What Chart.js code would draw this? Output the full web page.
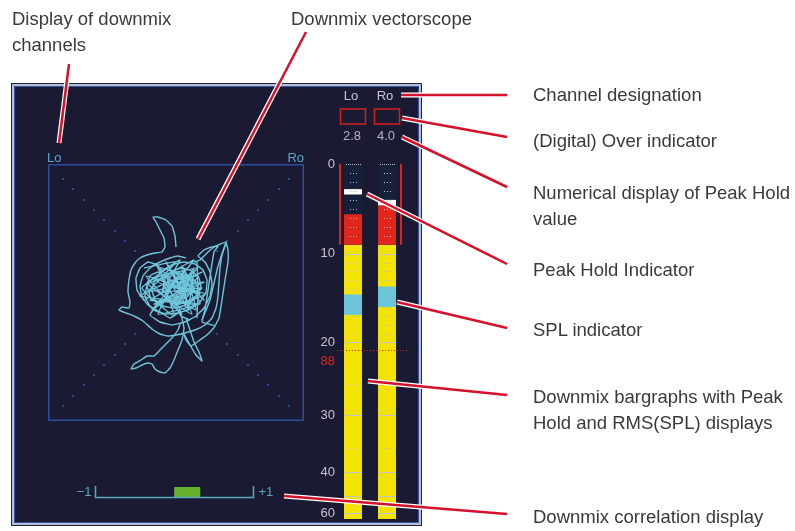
<!DOCTYPE html>
<html>
<head>
<meta charset="utf-8">
<script src="https://cdn.jsdelivr.net/npm/chart.js@4.4.1/dist/chart.umd.min.js"></script>
<style>
  html, body { margin: 0; padding: 0; background: #fff; }
  body { width: 795px; height: 531px; position: relative; overflow: hidden; font-family: "Liberation Sans", Arial, sans-serif; }
  #panel { position: absolute; left: 11px; top: 83px; width: 409px; height: 441px; border: 1px solid #25253a;
           background: #1b1a33; box-shadow: inset 0 0 0 2px #b3bbd6, inset 0 0 0 3px #3656a6; }
  canvas { position: absolute; }
  #scope { left: 48px; top: 164px; }
  #meter { left: 300px; top: 85px; }
  #corr { left: 70px; top: 480px; }
  #notes { position: absolute; left: 0; top: 0; }
  #notes text.note { font-family: "Liberation Sans", Arial, sans-serif; font-size: 18.5px; fill: #3a3a3a; }
  #notes text.ch { font-family: "Liberation Sans", Arial, sans-serif; font-size: 13px; fill: #5aa6c8; }
</style>
</head>
<body>
<div id="panel"></div>
<canvas id="scope" width="256" height="257"></canvas>
<canvas id="meter" width="120" height="445"></canvas>
<canvas id="corr" width="215" height="25"></canvas>
<svg id="notes" width="795" height="531">
  <g id="leaders"></g>
  <text class="ch" x="47" y="162">Lo</text>
  <text class="ch" x="304" y="162" text-anchor="end">Ro</text>
  <text class="note" x="12" y="25">Display of downmix</text>
  <text class="note" x="12" y="51">channels</text>
  <text class="note" x="291" y="25">Downmix vectorscope</text>
  <text class="note" x="533" y="101">Channel designation</text>
  <text class="note" x="533" y="147">(Digital) Over indicator</text>
  <text class="note" x="533" y="199">Numerical display of Peak Hold</text>
  <text class="note" x="533" y="225">value</text>
  <text class="note" x="533" y="276">Peak Hold Indicator</text>
  <text class="note" x="533" y="336">SPL indicator</text>
  <text class="note" x="533" y="403">Downmix bargraphs with Peak</text>
  <text class="note" x="533" y="429">Hold and RMS(SPL) displays</text>
  <text class="note" x="533" y="523">Downmix correlation display</text>
</svg>
<script>
// ---- data ----
const CHANNELS = ['Lo', 'Ro'];
const PEAK_HOLD = [2.8, 4.0];          // dB below full scale
const PEAK_TEXT = ['2.8', '4.0'];
const LEVEL = [5.6, 4.6];              // current bargraph top
const RED_ZONE = 9;                    // red zone 0..-9 dB
const FLOOR = 63.5;
const SPL_TOP = [14.6, 13.7];
const SPL_BOTTOM = [16.9, 16.0];
const DB_TICKS = [0, 10, 20, 30, 40, 60];
const DB_MAJOR = [0, 10, 20, 30, 40, 50, 60];
const DB_MINOR = [1, 2, 3, 4, 5, 6, 7, 8, 9, 11, 12, 13, 14, 15, 16, 17, 18, 19, 25, 35];
const SPL_REF = 20.9;
const SPL_REF_TEXT = '88';
const CORRELATION = [0, 0.32];

// vectorscope trace (x right, y down inside the 256 box)
const SCOPE_OUTLINE = [[128,83],[127,72],[124,62],[118,56],[110,53],[105,53],[108,58],[112,66],[116,74],[117,83],[114,88],[107,89],[99,91],[92,94],[87,99],[83,106],[81,116],[80,128],[82,138],[81,144],[74,143],[71,146],[78,149],[86,152],[95,157],[104,165],[112,170],[120,172],[128,171],[137,169],[147,166],[157,161],[164,154],[168,144],[170,132],[171,118],[172,104],[174,91],[178,78],[168,82],[160,88],[152,96],[146,98]];
const SCOPE_CORE = [[138,94],[130,92],[122,94],[112,98],[102,104],[95,112],[92,122],[94,133],[100,141],[108,147],[118,150],[130,149],[142,145],[152,138],[158,128],[159,116],[155,106],[147,100],[136,98],[124,101],[114,107],[107,116],[104,126],[107,136],[115,142],[126,144],[138,141],[148,134],[153,124],[151,114],[144,107],[134,104],[124,107],[117,115],[115,125],[120,133],[129,136],[139,133],[145,125],[143,116],[136,112],[128,114],[124,121],[128,127],[136,126],[140,119]];
const SCOPE_LOOP = [[110,101],[100,98],[92,104],[88,114],[89,126],[96,136],[102,132],[99,122],[102,112],[110,108],[119,114],[122,126],[116,136],[109,141],[102,151],[112,158],[124,161],[137,158],[148,152],[156,144],[162,132],[164,120],[162,108],[157,98],[150,92],[156,86],[164,83],[170,82],[166,88],[163,106],[160,126],[157,146],[154,158],[167,162],[160,170],[152,176],[143,182],[138,176],[136,170]];
const SCOPE_TAIL_R = [[138,154],[142,166],[146,178],[151,188],[154,197],[148,191],[142,181],[136,170]];
const SCOPE_TAIL_L = [[132,160],[130,166],[124,174],[118,180],[112,186],[106,192],[99,192],[93,196],[86,200],[83,205],[88,204],[94,201],[100,199],[104,200],[107,205],[112,208],[117,209],[122,204],[126,196],[130,186],[134,176],[136,164],[132,148],[122,154],[112,148],[102,142],[97,132],[100,118],[112,112],[127,108],[142,112],[150,121],[148,132],[138,138],[126,140],[118,132],[120,120],[132,118],[138,124],[134,132],[128,142],[133,152],[142,156]];
const SCOPE_SPIKE_A = [[178,78],[180,86],[180,98],[177,116],[174,136],[171,154],[167,162]];
const SCOPE_SPIKE_B = [[178,78],[170,102],[162,136],[154,156]];
const SCOPE_SPIKE_C = [[149,98],[150,126],[149,154]];
const SCOPE_MESH = [[120,110],[150,104],[126,124],[156,118],[118,136],[152,140],[134,102],[140,146],[146,104],[124,142],[158,130],[116,120],[144,110],[130,134],[154,124],[122,128],[148,146],[136,106],[128,140],[150,112],[120,118],[142,130],[132,112],[156,136],[126,108],[138,144]];
const SCOPE_MESH_B = [[96,104],[128,98],[100,128],[138,120],[104,146],[146,96],[110,118],[152,130],[98,112],[134,150],[108,100],[140,138],[102,136],[154,108],[114,128],[132,96],[94,124],[126,152],[112,104],[148,118],[106,140],[136,130],[118,98],[144,150],[100,120],[130,110],[110,150],[150,140],[92,132],[124,116]];

// ---- meter scale: non-linear dB axis ----
const METER_STOPS = [[0,0],[10,89.7],[20,178.4],[25,219.7],[30,251.4],[35,283.7],[40,308],[50,332.3],[60,349],[63.5,355]];
class MeterScale extends Chart.LinearScale {
  buildTicks() { return DB_TICKS.map(v => ({value: v})); }
  getPixelForValue(v) {
    if (v === null || isNaN(v)) return NaN;
    const s = METER_STOPS, tot = s[s.length - 1][1];
    let px = s[s.length - 1][1];
    if (v <= s[0][0]) px = 0;
    else {
      for (let i = 1; i < s.length; i++) {
        if (v <= s[i][0]) {
          px = s[i-1][1] + (v - s[i-1][0]) / (s[i][0] - s[i-1][0]) * (s[i][1] - s[i-1][1]);
          break;
        }
      }
    }
    return this.getPixelForDecimal(px / tot);
  }
  getValueForPixel(p) {
    const s = METER_STOPS, tot = s[s.length - 1][1];
    const px = this.getDecimalForPixel(p) * tot;
    for (let i = 1; i < s.length; i++) {
      if (px <= s[i][1]) return s[i-1][0] + (px - s[i-1][1]) / (s[i][1] - s[i-1][1]) * (s[i][0] - s[i-1][0]);
    }
    return s[s.length - 1][0];
  }
}
MeterScale.id = 'meter';
MeterScale.defaults = {};
Chart.register(MeterScale);

const FONT = '"Liberation Sans", Arial, sans-serif';

// ---- vectorscope ----
const scopeDeco = {
  id: 'scopeDeco',
  beforeDatasetsDraw(chart) {
    const {ctx, scales: {x, y}} = chart;
    ctx.save();
    ctx.fillStyle = '#2a4a9c';
    for (let i = 0; i < 8; i++) {
      const t = 15 + i * 10.3;
      [[t, t], [256 - t, t], [t, 257 - t], [256 - t, 257 - t]].forEach(([a, b]) => {
        ctx.fillRect(Math.round(x.getPixelForValue(a)) - 1, Math.round(y.getPixelForValue(b)) - 1, 2, 2);
      });
    }
    ctx.strokeStyle = '#2c4c9c';
    ctx.lineWidth = 1.5;
    ctx.strokeRect(0.75, 0.75, chart.width - 1.5, chart.height - 1.5);
    ctx.restore();
  }
};
const traceSet = pts => ({
  data: pts.map(([px, py]) => ({x: px, y: py})),
  showLine: true, pointRadius: 0, borderWidth: 1.4, borderColor: '#6dc6da', tension: 0.1
});
new Chart(document.getElementById('scope'), {
  type: 'scatter',
  data: { datasets: [SCOPE_OUTLINE, SCOPE_CORE, SCOPE_LOOP, SCOPE_TAIL_R, SCOPE_TAIL_L, SCOPE_SPIKE_A, SCOPE_SPIKE_B, SCOPE_SPIKE_C, SCOPE_MESH, SCOPE_MESH_B].map(traceSet) },
  options: {
    responsive: false, animation: false,
    layout: {padding: 0},
    scales: {
      x: {type: 'linear', min: 0, max: 256, display: false},
      y: {type: 'linear', min: 0, max: 257, reverse: true, display: false}
    },
    plugins: {legend: {display: false}, tooltip: {enabled: false}}
  },
  plugins: [scopeDeco]
});

// ---- bargraphs ----
const meterDeco = {
  id: 'meterDeco',
  afterDatasetsDraw(chart) {
    const {ctx, scales: {y}} = chart;
    const bars = chart.getDatasetMeta(0).data;
    ctx.save();
    ctx.fillStyle = '#b9b9c2';
    bars.forEach(b => {
      const l = Math.round(b.x - b.width / 2), r = Math.round(b.x + b.width / 2), cx = Math.round(b.x);
      DB_MAJOR.forEach(v => {
        const py = Math.round(y.getPixelForValue(v));
        for (let xx = l + 2; xx < r - 1; xx += 2) ctx.fillRect(xx, py, 1, 1);
      });
      DB_MINOR.forEach(v => {
        const py = Math.round(y.getPixelForValue(v));
        for (let k = -3; k <= 3; k += 3) ctx.fillRect(cx + k, py, 1, 1);
      });
    });
    // red zone brackets
    ctx.fillStyle = '#e0221c';
    const y0 = y.getPixelForValue(0), y9 = y.getPixelForValue(RED_ZONE);
    ctx.fillRect(Math.round(bars[0].x - bars[0].width / 2) - 5, y0, 2, y9 - y0);
    ctx.fillRect(Math.round(bars[1].x + bars[1].width / 2) + 4, y0, 2, y9 - y0);
    // SPL reference line
    const yr = Math.round(y.getPixelForValue(SPL_REF)) + 0.5;
    ctx.strokeStyle = '#e0221c';
    ctx.lineWidth = 1;
    ctx.setLineDash([1, 2]);
    ctx.beginPath(); ctx.moveTo(37, yr); ctx.lineTo(107, yr); ctx.stroke();
    ctx.setLineDash([]);
    ctx.font = '13px ' + FONT;
    ctx.textAlign = 'right'; ctx.textBaseline = 'middle';
    ctx.fillStyle = '#e0221c';
    ctx.fillText(SPL_REF_TEXT, 35, yr + 11);
    // headers
    ctx.textAlign = 'center';
    bars.forEach((b, i) => {
      ctx.fillStyle = '#c8c8d2';
      ctx.fillText(CHANNELS[i], b.x - 2, 11);
      ctx.strokeStyle = '#d0201c'; ctx.lineWidth = 1.5;
      ctx.strokeRect(Math.round(b.x) - 12.5, 24, 25, 15);
      ctx.fillStyle = '#b4b4bc';
      ctx.fillText(PEAK_TEXT[i], b.x - 1, 51);
    });
    ctx.restore();
  }
};
const pair = (a, b) => CHANNELS.map((_, i) => [a[i], b[i]]);
// higher order = drawn underneath
new Chart(document.getElementById('meter'), {
  type: 'bar',
  data: {
    labels: CHANNELS,
    datasets: [
      {data: CHANNELS.map(() => [0, FLOOR]), backgroundColor: '#15203a', order: 5},
      {data: CHANNELS.map(() => [RED_ZONE, FLOOR]), backgroundColor: '#f2e400', order: 4},
      {data: CHANNELS.map((_, i) => [LEVEL[i], RED_ZONE]), backgroundColor: '#e2261c', order: 3},
      {data: pair(SPL_TOP, SPL_BOTTOM), backgroundColor: '#6cc6da', order: 2},
      {data: PEAK_HOLD.map(v => [v, v + 0.6]), backgroundColor: '#ffffff', order: 1}
    ]
  },
  options: {
    responsive: false, animation: false,
    layout: {padding: {top: 79, bottom: 11, left: 0, right: 16}},
    datasets: {bar: {grouped: false, barPercentage: 18 / 34, categoryPercentage: 1, borderWidth: 0}},
    scales: {
      x: {display: false},
      y: {
        type: 'meter', min: 0, max: FLOOR, reverse: true,
        afterFit: s => { s.width = 36; },
        grid: {display: false, drawTicks: false}, border: {display: false},
        ticks: {autoSkip: false, padding: 1, color: '#c4c4cc', font: {family: FONT, size: 13}, callback: v => String(v)}
      }
    },
    plugins: {legend: {display: false}, tooltip: {enabled: false}}
  },
  plugins: [meterDeco]
});

// ---- correlation ----
const corrDeco = {
  id: 'corrDeco',
  afterDatasetsDraw(chart) {
    const {ctx, chartArea: a, scales: {x}} = chart;
    const xl = Math.round(x.getPixelForValue(-1)) + 0.5, xr = Math.round(x.getPixelForValue(1)) - 0.5;
    ctx.save();
    ctx.strokeStyle = '#58a8c4'; ctx.lineWidth = 1.5;
    ctx.beginPath();
    ctx.moveTo(xl, a.top - 1); ctx.lineTo(xl, a.bottom + 0.5); ctx.lineTo(xr, a.bottom + 0.5); ctx.lineTo(xr, a.top - 1);
    ctx.stroke();
    ctx.fillStyle = '#58a8c4';
    ctx.font = '13px ' + FONT; ctx.textBaseline = 'middle';
    ctx.textAlign = 'right'; ctx.fillText('\u22121', xl - 4, a.top + 5.5);
    ctx.textAlign = 'left'; ctx.fillText('+1', xr + 5, a.top + 5.5);
    ctx.restore();
  }
};
new Chart(document.getElementById('corr'), {
  type: 'bar',
  data: {labels: ['corr'], datasets: [{data: [CORRELATION], backgroundColor: '#66b22e', borderWidth: 0}]},
  options: {
    indexAxis: 'y', responsive: false, animation: false,
    layout: {padding: {left: 25, right: 31, top: 7, bottom: 8}},
    datasets: {bar: {barPercentage: 1, categoryPercentage: 1}},
    scales: {x: {min: -1, max: 1, display: false}, y: {display: false}},
    plugins: {legend: {display: false}, tooltip: {enabled: false}}
  },
  plugins: [corrDeco]
});

// ---- leader lines ----
const LEADERS = [[69,64,59,143],[306,32,198,239],[401,95,507,95],[402,118,507,137],[402,137,507,187],[367,194,507,264],[397,302,507,328],[368,381,507,395],[284,496,507,514]];
const g = document.getElementById('leaders');
const NS = 'http://www.w3.org/2000/svg';
LEADERS.forEach(([x1, y1, x2, y2]) => {
  [['#ffffff', 5], ['#d5112b', 2.5]].forEach(([c, w]) => {
    const ln = document.createElementNS(NS, 'line');
    ln.setAttribute('x1', x1); ln.setAttribute('y1', y1);
    ln.setAttribute('x2', x2); ln.setAttribute('y2', y2);
    ln.setAttribute('stroke', c); ln.setAttribute('stroke-width', w);
    g.appendChild(ln);
  });
});
</script>
</body>
</html>
